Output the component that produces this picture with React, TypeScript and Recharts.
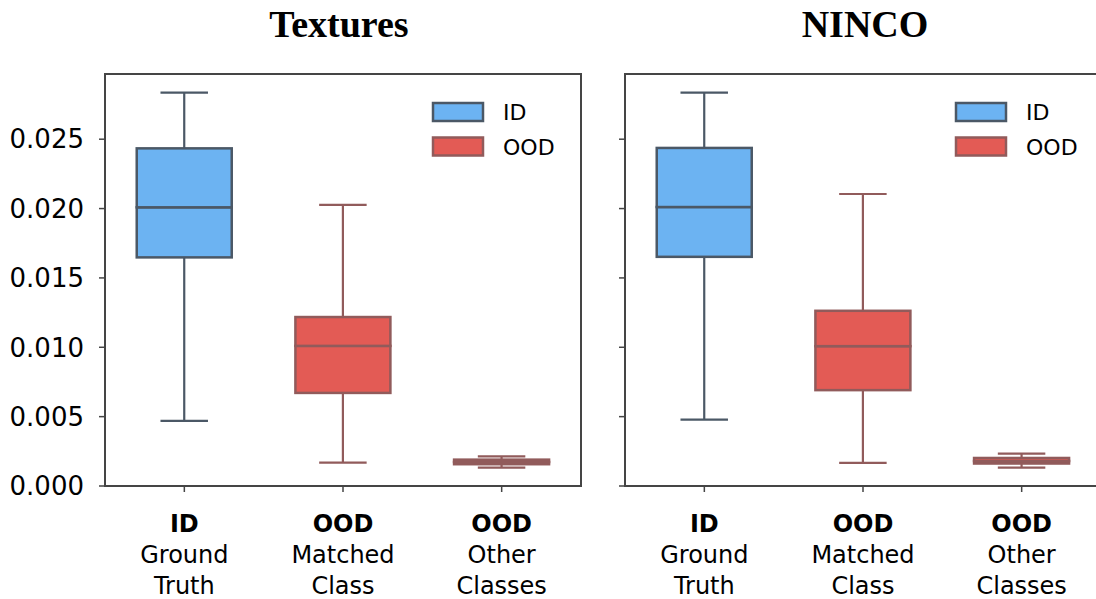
import React from "react";
import {
  ComposedChart,
  Bar,
  XAxis,
  YAxis,
  ReferenceArea,
} from "recharts";

// category labels
const groupLabels = ["ID", "OOD", "OOD"];
const subLabels = [
  ["Ground", "Truth"],
  ["Matched", "Class"],
  ["Other", "Classes"],
];
const kinds = ["ID", "OOD", "OOD"];

// box stats (low whisker, q1, median, q3, high whisker)
const texturesLow = [0.00469, 0.00169, 0.00133];
const texturesQ1 = [0.01648, 0.00671, 0.00157];
const texturesMedian = [0.02009, 0.0101, 0.00173];
const texturesQ3 = [0.02434, 0.01218, 0.0019];
const texturesHigh = [0.02836, 0.02026, 0.00214];

const nincoLow = [0.00479, 0.00166, 0.00133];
const nincoQ1 = [0.01652, 0.00691, 0.00162];
const nincoMedian = [0.02011, 0.01008, 0.0018];
const nincoQ3 = [0.02437, 0.01263, 0.00202];
const nincoHigh = [0.02836, 0.02105, 0.00234];

const yTicks = [0, 0.005, 0.01, 0.015, 0.02, 0.025];
const Y_MAX = 0.0297;

const COLORS: Record<string, { fill: string; edge: string }> = {
  ID: { fill: "#6cb3f2", edge: "#4b5866" },
  OOD: { fill: "#e35b55", edge: "#915b5b" },
};

const FONT = "'DejaVu Sans', Verdana, sans-serif";
const AXIS = "#454545";

function buildRows(
  low: number[],
  q1: number[],
  med: number[],
  q3: number[],
  high: number[]
) {
  return groupLabels.map((_, i) => ({
    key: String(i),
    kind: kinds[i],
    base: low[i],
    lowWhisker: q1[i] - low[i],
    lowBox: med[i] - q1[i],
    highBox: q3[i] - med[i],
    highWhisker: high[i] - q3[i],
  }));
}

const texturesRows = buildRows(texturesLow, texturesQ1, texturesMedian, texturesQ3, texturesHigh);
const nincoRows = buildRows(nincoLow, nincoQ1, nincoMedian, nincoQ3, nincoHigh);

const Empty = () => <g />;

const BoxShape = (props: any) => {
  const { x, y, width, height, payload } = props;
  const c = COLORS[payload.kind];
  return (
    <rect x={x} y={y} width={width} height={height} fill={c.fill} stroke={c.edge} strokeWidth={2.5} />
  );
};

const makeWhisker = (capAtTop: boolean) => (props: any) => {
  const { x, y, width, height, payload } = props;
  const c = COLORS[payload.kind];
  const cx = x + width / 2;
  const capY = capAtTop ? y : y + height;
  return (
    <g stroke={c.edge} strokeWidth={2.2}>
      <line x1={cx} x2={cx} y1={y} y2={y + height} />
      <line x1={x + width / 4} x2={x + (3 * width) / 4} y1={capY} y2={capY} />
    </g>
  );
};
const LowWhisker = makeWhisker(false);
const HighWhisker = makeWhisker(true);

const CategoryTick = (props: any) => {
  const { x, y, payload } = props;
  const i = Number(payload.value);
  return (
    <text x={x} y={y} textAnchor="middle" fontFamily={FONT} fontSize={24} fill="#000">
      <tspan x={x} dy={38} fontWeight="bold">
        {groupLabels[i]}
      </tspan>
      <tspan x={x} dy={31}>
        {subLabels[i][0]}
      </tspan>
      <tspan x={x} dy={31}>
        {subLabels[i][1]}
      </tspan>
    </text>
  );
};

function Panel({ rows, showLabels }: { rows: any[]; showLabels: boolean }) {
  const yWidth = showLabels ? 105 : 20;
  return (
    <ComposedChart
      width={yWidth + 478}
      height={599}
      data={rows}
      margin={{ top: 74, right: 2, bottom: 0, left: 0 }}
      barCategoryGap="20%"
    >
      <XAxis
        dataKey="key"
        height={113}
        axisLine={false}
        tickLine={{ stroke: AXIS, strokeWidth: 1.5 }}
        tickSize={6}
        tick={<CategoryTick />}
        interval={0}
      />
      <YAxis
        type="number"
        domain={[0, Y_MAX]}
        ticks={yTicks}
        width={yWidth}
        axisLine={false}
        tickLine={{ stroke: AXIS, strokeWidth: 1.5 }}
        tickSize={6}
        tickMargin={15}
        tick={showLabels ? { fill: "#000", fontSize: 26, fontFamily: FONT } : <Empty />}
        tickFormatter={(v: number) => v.toFixed(3)}
        allowDataOverflow
      />
      <Bar dataKey="base" stackId="box" shape={<Empty />} isAnimationActive={false} />
      <Bar dataKey="lowWhisker" stackId="box" shape={LowWhisker} isAnimationActive={false} />
      <Bar dataKey="lowBox" stackId="box" shape={BoxShape} isAnimationActive={false} />
      <Bar dataKey="highBox" stackId="box" shape={BoxShape} isAnimationActive={false} />
      <Bar dataKey="highWhisker" stackId="box" shape={HighWhisker} isAnimationActive={false} />
      <ReferenceArea
        y1={0}
        y2={Y_MAX}
        fill="none"
        stroke={AXIS}
        strokeWidth={2}
        ifOverflow="visible"
      />
    </ComposedChart>
  );
}

function LegendBox({ left }: { left: number }) {
  const items = ["ID", "OOD"];
  return (
    <g>
      {items.map((k, i) => (
        <g key={k}>
          <rect
            x={left}
            y={103 + i * 34.5}
            width={50}
            height={18}
            fill={COLORS[k].fill}
            stroke={COLORS[k].edge}
            strokeWidth={2.5}
          />
          <text x={left + 70} y={120 + i * 34.5} fontFamily={FONT} fontSize={22} fill="#000">
            {k}
          </text>
        </g>
      ))}
    </g>
  );
}

export default function App() {
  return (
    <div
      style={{
        position: "absolute",
        left: 0,
        top: 0,
        width: 1096,
        height: 599,
        overflow: "hidden",
        background: "#fff",
      }}
    >
      <div style={{ position: "absolute", left: 0, top: 0 }}>
        <Panel rows={texturesRows} showLabels />
      </div>
      <div style={{ position: "absolute", left: 605, top: 0 }}>
        <Panel rows={nincoRows} showLabels={false} />
      </div>
      <svg
        width={1096}
        height={599}
        style={{ position: "absolute", left: 0, top: 0, pointerEvents: "none" }}
      >
        <text
          x={339}
          y={37}
          textAnchor="middle"
          fontFamily="'Liberation Serif', 'Times New Roman', serif"
          fontWeight="bold"
          fontSize={38}
        >
          Textures
        </text>
        <text
          x={865}
          y={37}
          textAnchor="middle"
          fontFamily="'Liberation Serif', 'Times New Roman', serif"
          fontWeight="bold"
          fontSize={38}
        >
          NINCO
        </text>
        <LegendBox left={433} />
        <LegendBox left={956} />
      </svg>
    </div>
  );
}
